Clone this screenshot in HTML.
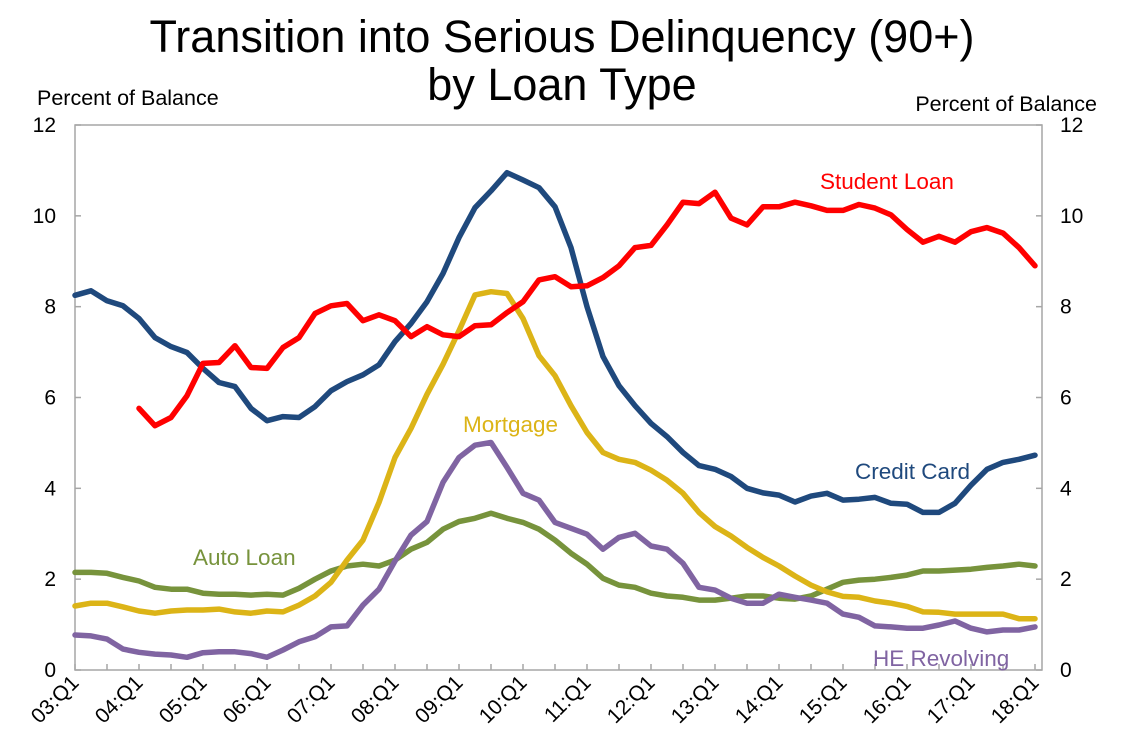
<!DOCTYPE html>
<html><head><meta charset="utf-8"><style>
body{margin:0;background:#fff;width:1125px;height:747px;overflow:hidden;font-family:"Liberation Sans",Arial,sans-serif}
svg text{font-family:"Liberation Sans",Arial,sans-serif}
</style></head><body>
<svg id="chart" width="1125" height="747" viewBox="0 0 1125 747" xmlns="http://www.w3.org/2000/svg">
<text x="562" y="52" font-size="45" text-anchor="middle" fill="#000">Transition into Serious Delinquency (90+)</text>
<text x="562" y="100" font-size="45" text-anchor="middle" fill="#000">by Loan Type</text>
<text x="37" y="105" font-size="21.5" fill="#000">Percent of Balance</text>
<text x="1097" y="111" font-size="21.5" text-anchor="end" fill="#000">Percent of Balance</text>
<rect x="75" y="125" width="967" height="545" fill="none" stroke="#a6a6a6" stroke-width="1.5"/>
<g id="axes"></g>
<g id="series"></g>
<text x="820" y="189" font-size="22.5" fill="#ff0000">Student Loan</text>
<text x="855" y="479" font-size="22.5" fill="#1f497d">Credit Card</text>
<text x="463" y="432" font-size="22.5" fill="#dcb417">Mortgage</text>
<text x="193" y="565" font-size="22.5" fill="#77933c">Auto Loan</text>
<text x="873" y="666" font-size="22.5" fill="#8064a2">HE Revolving</text>
</svg>
<script>
const yTicks=[0,2,4,6,8,10,12];
const xLabels=["03:Q1","04:Q1","05:Q1","06:Q1","07:Q1","08:Q1","09:Q1","10:Q1","11:Q1","12:Q1","13:Q1","14:Q1","15:Q1","16:Q1","17:Q1","18:Q1"];
const creditCard=[8.25,8.35,8.13,8.02,7.74,7.32,7.12,6.99,6.64,6.33,6.24,5.76,5.49,5.58,5.56,5.8,6.15,6.35,6.5,6.72,7.23,7.63,8.11,8.73,9.52,10.18,10.55,10.95,10.79,10.62,10.2,9.3,8.0,6.9,6.26,5.82,5.43,5.14,4.79,4.5,4.42,4.26,4.0,3.9,3.85,3.7,3.83,3.89,3.74,3.76,3.8,3.67,3.65,3.47,3.47,3.67,4.07,4.42,4.57,4.64,4.73];
const studentLoan=[null,null,null,null,5.76,5.38,5.56,6.04,6.75,6.77,7.14,6.66,6.64,7.1,7.32,7.85,8.02,8.07,7.69,7.82,7.69,7.34,7.56,7.38,7.34,7.58,7.6,7.87,8.11,8.59,8.66,8.44,8.46,8.64,8.9,9.3,9.35,9.8,10.3,10.27,10.52,9.95,9.8,10.2,10.2,10.3,10.22,10.12,10.12,10.25,10.17,10.02,9.7,9.42,9.55,9.42,9.65,9.74,9.62,9.3,8.9];
const mortgage=[1.41,1.47,1.47,1.39,1.3,1.25,1.3,1.32,1.32,1.34,1.28,1.25,1.3,1.28,1.43,1.63,1.93,2.42,2.86,3.69,4.68,5.32,6.07,6.73,7.47,8.26,8.33,8.29,7.74,6.92,6.48,5.82,5.23,4.79,4.64,4.57,4.4,4.18,3.89,3.47,3.16,2.95,2.7,2.48,2.29,2.07,1.87,1.72,1.62,1.6,1.52,1.47,1.4,1.28,1.27,1.23,1.23,1.23,1.23,1.13,1.13];
const autoLoan=[2.15,2.15,2.13,2.04,1.96,1.82,1.78,1.78,1.69,1.67,1.67,1.65,1.67,1.65,1.8,2.0,2.18,2.29,2.33,2.29,2.42,2.66,2.81,3.1,3.27,3.34,3.45,3.34,3.25,3.1,2.86,2.57,2.33,2.02,1.87,1.82,1.69,1.63,1.6,1.54,1.54,1.58,1.63,1.63,1.58,1.56,1.63,1.78,1.93,1.98,2.0,2.04,2.09,2.18,2.18,2.2,2.22,2.26,2.29,2.33,2.29];
const heRevolving=[0.77,0.75,0.68,0.46,0.39,0.35,0.33,0.28,0.38,0.4,0.4,0.36,0.28,0.44,0.62,0.73,0.95,0.97,1.43,1.78,2.4,2.97,3.27,4.13,4.68,4.95,5.01,4.46,3.89,3.74,3.25,3.12,2.99,2.66,2.92,3.01,2.73,2.66,2.35,1.82,1.76,1.58,1.47,1.47,1.67,1.6,1.54,1.47,1.23,1.16,0.97,0.95,0.92,0.92,0.99,1.08,0.92,0.84,0.88,0.88,0.95];
const NS="http://www.w3.org/2000/svg";
const X0=75,DX=16,Y0=670,YS=545/12;
function xs(i){return X0+DX*i;}
function ys(v){return Y0-v*YS;}
const axes=document.getElementById('axes');
function mk(tag,attrs,parent){const e=document.createElementNS(NS,tag);for(const k in attrs)e.setAttribute(k,attrs[k]);parent.appendChild(e);return e;}
yTicks.forEach(v=>{
  const y=ys(v);
  let t=mk('line',{x1:75,x2:81,y1:y,y2:y,stroke:'#a6a6a6','stroke-width':1.5},axes);
  
  
  t=mk('line',{x1:1036,x2:1042,y1:y,y2:y,stroke:'#a6a6a6','stroke-width':1.5},axes);
  
  
  let l=mk('text',{x:56,y:y+7,'font-size':21,'text-anchor':'end',fill:'#000'},axes);l.textContent=v;
  
  
  l=mk('text',{x:1060,y:y+7,'font-size':21,'text-anchor':'start',fill:'#000'},axes);l.textContent=v;
  
  
});
for(let i=0;i<=60;i+=2){
  const t=mk('line',{x1:xs(i),x2:xs(i),y1:664,y2:670,stroke:'#a6a6a6','stroke-width':1.5},axes);
  
  
}
xLabels.forEach((s,k)=>{
  const x=xs(k*4),y=684;
  const l=mk('text',{x:x+5,y:y,'font-size':21,'text-anchor':'end',fill:'#000',transform:`rotate(-45 ${x+5} ${y})`},axes);
  l.textContent=s;
  
  
});
const series=document.getElementById('series');
function draw(arr,color,name){
  let d='';let pen=false;
  arr.forEach((v,i)=>{if(v==null){pen=false;return;}d+=(pen?'L':'M')+xs(i).toFixed(1)+' '+ys(v).toFixed(1)+' ';pen=true;});
  const p=mk('path',{d:d,fill:'none',stroke:color,'stroke-width':5.5,'stroke-linejoin':'round','stroke-linecap':'round'},series);
  
  
}
draw(autoLoan,'#77933c','auto-loan-line');
draw(heRevolving,'#8064a2','he-revolving-line');
draw(mortgage,'#dcb417','mortgage-line');
draw(creditCard,'#1f497d','credit-card-line');
draw(studentLoan,'#ff0000','student-loan-line');
</script>
</body></html>
